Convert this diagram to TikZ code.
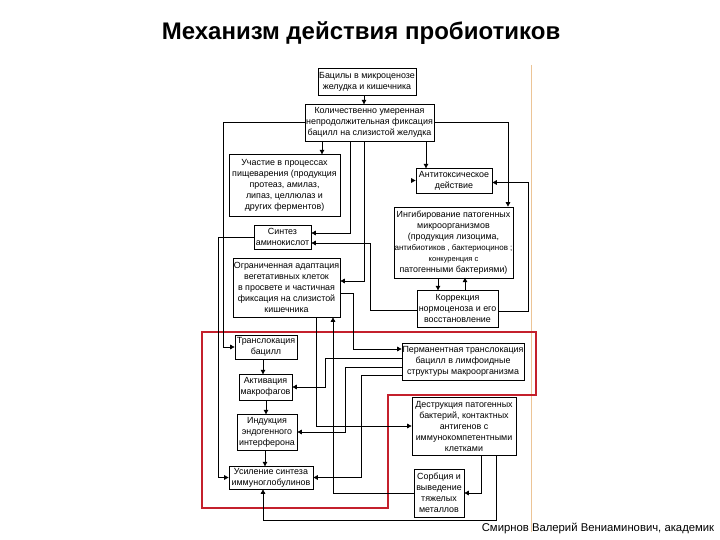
\documentclass[tikz,border=0pt]{standalone}
\usepackage{fontspec}
\setmainfont{Liberation Sans}
\usetikzlibrary{arrows.meta}
\definecolor{frameRed}{RGB}{196,32,44}
\definecolor{divOrange}{RGB}{236,196,150}
\begin{document}
\begin{tikzpicture}[x=1pt,y=-1pt,
  box/.style={draw, line width=0.7pt, inner sep=0pt, align=center, fill=white,
              font=\fontsize{8.9}{11}\selectfont},
  arr/.style={line width=0.7pt, -{Triangle[length=4.5pt,width=4.5pt]}},
  ln/.style={line width=0.7pt}]
\useasboundingbox[fill=white] (0,0) rectangle (720,540);

% title and footer
\node[font=\fontsize{24}{28}\selectfont\bfseries] (title) at (361,33) {Механизм действия пробиотиков};
\node[font=\fontsize{11.3}{13}\selectfont] (author) at (598,528) {Смирнов Валерий Вениаминович, академик};

% divider line and red frame
\draw[divOrange, line width=1pt] (531,65) -- (531,532);
\draw[frameRed, line width=2.6pt, line join=miter] (202,332) -- (536,332) -- (536,395) -- (388,395) -- (388,508) -- (202,508) -- cycle;

% boxes
\node[box, minimum width=98pt, minimum height=27pt] (bac) at (367,81.5) {Бацилы в микроценозе\\желудка и кишечника};
\node[box, minimum width=129pt, minimum height=37pt] (kol) at (369.5,122.5) {Количественно умеренная\\непродолжительная фиксация\\бацилл на слизистой желудка};
\node[box, minimum width=111pt, minimum height=62pt] (uch) at (284.5,185) {Участие в процессах\\пищеварения (продукция\\протеаз, амилаз,\\липаз, целлюлаз и\\других ферментов)};
\node[box, minimum width=57pt, minimum height=24pt] (sin) at (282.5,237) {Синтез\\аминокислот};
\node[box, minimum width=107pt, minimum height=59pt] (ogr) at (286.5,287.5) {Ограниченная адаптация\\вегетативных клеток\\в просвете и частичная\\фиксация на слизистой\\кишечника};
\node[box, minimum width=76pt, minimum height=25pt] (anti) at (454,180.5) {Антитоксическое\\действие};
\node[box, minimum width=119pt, minimum height=71pt] (ing) at (453.5,242.5) {Ингибирование патогенных\\микроорганизмов\\(продукция лизоцима,\\{\fontsize{8}{11}\selectfont антибиотиков , бактериоцинов ;}\\{\fontsize{7.5}{11}\selectfont конкуренция с}\\патогенными бактериями)};
\node[box, minimum width=81pt, minimum height=37pt] (kor) at (457.5,308.5) {Коррекция\\нормоценоза и его\\восстановление};
\node[box, minimum width=62pt, minimum height=24pt] (tra) at (266,347) {Транслокация\\бацилл};
\node[box, minimum width=53pt, minimum height=26pt] (akt) at (265.5,387) {Активация\\макрофагов};
\node[box, minimum width=60pt, minimum height=36pt] (ind) at (267,432) {Индукция\\эндогенного\\интерферона};
\node[box, minimum width=84pt, minimum height=23pt] (usi) at (271,477.5) {Усиление синтеза\\иммуноглобулинов};
\node[box, minimum width=122pt, minimum height=37pt] (per) at (463,361.5) {Перманентная транслокация\\бацилл в лимфоидные\\структуры макроорганизма};
\node[box, minimum width=104pt, minimum height=58pt] (des) at (464,426) {Деструкция патогенных\\бактерий, контактных\\антигенов с\\иммунокомпетентными\\клетками};
\node[box, minimum width=50pt, minimum height=48pt] (sor) at (439,493) {Сорбция и\\выведение\\тяжелых\\металлов};

% connectors
\draw[arr] ([xshift=-3pt]bac.south) -- ++(0,9);
\draw[arr] ([xshift=-47.5pt]kol.south) -- ++(0,13);
\draw[arr] ([xshift=-19.5pt]kol.south) |- ([yshift=4pt]sin.east);
\draw[arr] ([xshift=-5.5pt]kol.south) |- ([yshift=6.5pt]ogr.east);
\draw[arr] ([xshift=56.5pt]kol.south) -- ++(0,27);
\draw[arr] (kol.east) -| ([xshift=54.5pt]ing.north);
\draw[arr] (kol.west) -- ++(-81,0) |- (tra.west);
\draw[arr] (sin.west) -- ++(-35,0) |- (usi.west);
\draw[arr] ([yshift=-2pt]kor.west) -| (370,243) -- ([yshift=-6pt]sin.east);
\draw[arr] ([yshift=-3pt]kor.east) -| (528,182.5) -- ([yshift=-2pt]anti.east);
\draw[arr] ([xshift=-5pt]anti.west) -- (anti.west);
\draw[arr] ([xshift=-15.5pt]ing.south) -- ++(0,12);
\draw[arr] ([xshift=7.5pt]kor.north) -- ++(0,-12);
\draw[arr] ([xshift=-3pt]tra.south) -- ++(0,15);
\draw[arr] ([xshift=0.5pt]akt.south) -- ++(0,14);
\draw[arr] ([xshift=-2pt]ind.south) -- ++(0,16);
\draw[arr] ([yshift=-5.5pt]ogr.east) -| (353,349) -- ([yshift=12.5pt]per.west);
\draw[arr] ([yshift=3.5pt]per.west) -| (325,387) -- (akt.east);
\draw[arr] ([yshift=-5.5pt]per.west) -| (345,432) -- (ind.east);
\draw[arr] ([yshift=-13.5pt]per.west) -| (361,477.5) -- (usi.east);
\draw[arr] ([xshift=29.5pt]ogr.south) |- (des.west);
\draw[arr] (sor.west) -| ([xshift=46.5pt]ogr.south);
\draw[arr] ([xshift=17pt]des.south) |- (sor.east);
\draw[arr] ([xshift=32pt]des.south) -- (496,520) -| ([xshift=-8pt]usi.south);
\end{tikzpicture}
\end{document}
